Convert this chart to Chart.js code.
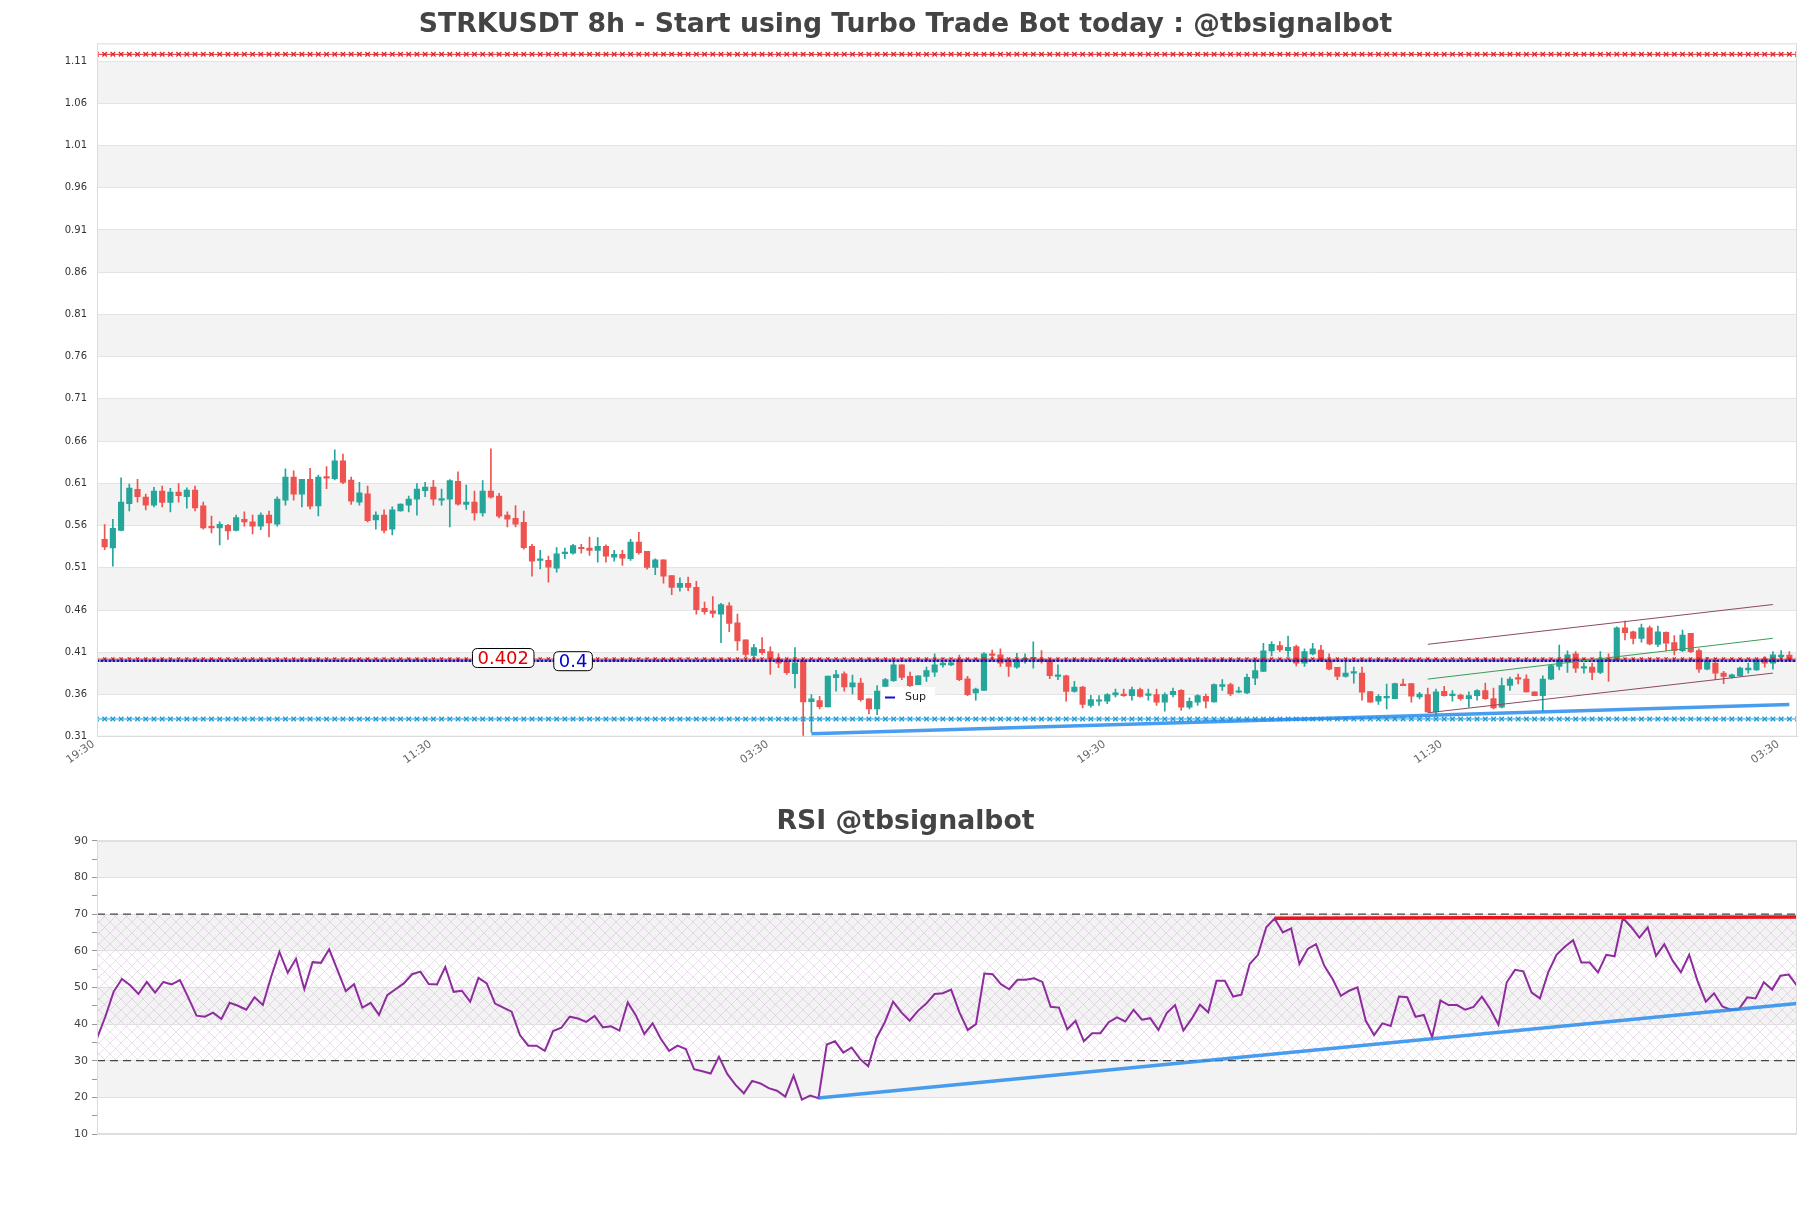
<!DOCTYPE html>
<html>
<head>
<meta charset="utf-8">
<script src="https://cdn.jsdelivr.net/npm/chart.js@4.4.0/dist/chart.umd.min.js"></script>
<style>
  body { margin: 0; background: #fff; width: 1811px; height: 1208px; overflow: hidden; }
  #priceWrap { position: absolute; left: 0; top: 0; width: 1811px; height: 790px; }
  #rsiWrap { position: absolute; left: 0; top: 790px; width: 1811px; height: 418px; }
</style>
</head>
<body>
<div id="priceWrap"><canvas id="priceChart" width="1811" height="790"></canvas></div>
<div id="rsiWrap"><canvas id="rsiChart" width="1811" height="418"></canvas></div>
<script>
//============================== DATA ===========================
const open = [
  0.5437,0.5334,0.5544,0.5858,0.6029,0.5937,0.5842,0.6009,0.5874,0.5997,
  0.5941,0.6021,0.5834,0.5592,0.5572,0.5604,0.5544,0.5675,0.5643,0.5592,
  0.5723,0.5616,0.5901,0.6175,0.5973,0.6148,0.5834,0.6179,0.6156,0.6366,
  0.6140,0.5878,0.5977,0.5667,0.5723,0.5556,0.5774,0.5842,0.5913,0.6013,
  0.6056,0.5901,0.5913,0.6124,0.5850,0.5878,0.5751,0.6009,0.5949,0.5723,
  0.5687,0.5639,0.5354,0.5187,0.5187,0.5096,0.5266,0.5274,0.5342,0.5334,
  0.5306,0.5354,0.5227,0.5258,0.5207,0.5405,0.5294,0.5104,0.5195,0.5008,
  0.4869,0.4917,0.4869,0.4619,0.4591,0.4552,0.4651,0.4449,0.4246,0.4063,
  0.4135,0.4107,0.4020,0.3996,0.3845,0.3996,0.3516,0.3528,0.3452,0.3798,
  0.3845,0.3690,0.3734,0.3547,0.3428,0.3696,0.3763,0.3951,0.3814,0.3716,
  0.3814,0.3865,0.3951,0.3951,0.4010,0.3786,0.3618,0.3649,0.4080,0.4069,
  0.3990,0.3924,0.4010,0.4022,0.4018,0.4010,0.3814,0.3822,0.3637,0.3688,
  0.3469,0.3520,0.3520,0.3594,0.3606,0.3586,0.3657,0.3590,0.3598,0.3508,
  0.3598,0.3649,0.3449,0.3508,0.3578,0.3512,0.3696,0.3716,0.3626,0.3618,
  0.3794,0.3873,0.4116,0.4178,0.4120,0.4167,0.3971,0.4080,0.4127,0.4002,
  0.3920,0.3814,0.3853,0.3853,0.3633,0.3520,0.3559,0.3551,0.3724,0.3728,
  0.3571,0.3598,0.3394,0.3637,0.3586,0.3594,0.3551,0.3586,0.3645,0.3551,
  0.3449,0.3708,0.3794,0.3782,0.3630,0.3586,0.3782,0.3931,0.3990,0.4080,
  0.3912,0.3924,0.3861,0.4018,0.4010,0.4390,0.4343,0.4265,0.4390,0.4194,
  0.4335,0.4214,0.4120,0.4323,0.4120,0.3900,0.3971,0.3853,0.3806,0.3822,
  0.3892,0.3892,0.4022,0.3971,0.4049,0.4065
];
const high = [
  0.5612,0.5675,0.6164,0.6092,0.6148,0.5973,0.6052,0.6068,0.6040,0.6096,
  0.6048,0.6068,0.5878,0.5711,0.5643,0.5616,0.5723,0.5763,0.5723,0.5751,
  0.5771,0.5941,0.6271,0.6247,0.6148,0.6279,0.6199,0.6298,0.6497,0.6445,
  0.6175,0.6112,0.6068,0.5763,0.5786,0.5822,0.5858,0.5949,0.6096,0.6112,
  0.6136,0.6033,0.6144,0.6235,0.6080,0.6009,0.6132,0.6509,0.5981,0.5763,
  0.5838,0.5771,0.5377,0.5306,0.5239,0.5338,0.5334,0.5377,0.5377,0.5465,
  0.5457,0.5373,0.5306,0.5306,0.5437,0.5520,0.5294,0.5207,0.5195,0.5008,
  0.4981,0.4989,0.4941,0.4695,0.4758,0.4679,0.4687,0.4552,0.4246,0.4194,
  0.4274,0.4163,0.4083,0.3996,0.4155,0.4028,0.3599,0.3579,0.3817,0.3885,
  0.3869,0.3829,0.3790,0.3547,0.3706,0.3790,0.3990,0.3951,0.3865,0.3822,
  0.3924,0.4080,0.3990,0.3990,0.4065,0.3814,0.3677,0.4096,0.4127,0.4139,
  0.4010,0.4088,0.4080,0.4222,0.4120,0.4029,0.3951,0.3830,0.3755,0.3696,
  0.3590,0.3586,0.3610,0.3665,0.3665,0.3688,0.3677,0.3665,0.3665,0.3618,
  0.3677,0.3657,0.3560,0.3598,0.3606,0.3727,0.3775,0.3735,0.3688,0.3841,
  0.4029,0.4206,0.4225,0.4225,0.4292,0.4186,0.4139,0.4206,0.4182,0.4080,
  0.3920,0.3990,0.3924,0.3924,0.3633,0.3598,0.3724,0.3735,0.3782,0.3728,
  0.3626,0.3677,0.3665,0.3696,0.3645,0.3606,0.3630,0.3657,0.3735,0.3677,
  0.3794,0.3806,0.3841,0.3833,0.3630,0.3822,0.3943,0.4186,0.4116,0.4108,
  0.3971,0.3971,0.4108,0.4080,0.4402,0.4468,0.4351,0.4433,0.4410,0.4410,
  0.4343,0.4296,0.4363,0.4323,0.4139,0.4041,0.4010,0.3873,0.3841,0.3924,
  0.3971,0.4022,0.4049,0.4108,0.4120,0.4108
];
const low = [
  0.5314,0.5120,0.5536,0.5774,0.5878,0.5786,0.5822,0.5822,0.5763,0.5878,
  0.5806,0.5774,0.5556,0.5512,0.5370,0.5437,0.5536,0.5592,0.5500,0.5552,
  0.5465,0.5592,0.5842,0.5901,0.5822,0.5798,0.5715,0.6036,0.6140,0.6096,
  0.5850,0.5842,0.5643,0.5556,0.5512,0.5489,0.5770,0.5761,0.5723,0.5941,
  0.5842,0.5842,0.5584,0.5842,0.5790,0.5663,0.5711,0.5925,0.5691,0.5584,
  0.5584,0.5322,0.5000,0.5088,0.4929,0.5048,0.5207,0.5262,0.5274,0.5246,
  0.5167,0.5167,0.5179,0.5127,0.5187,0.5262,0.5084,0.5020,0.4917,0.4782,
  0.4822,0.4830,0.4552,0.4552,0.4512,0.4214,0.4345,0.4123,0.4044,0.3988,
  0.4075,0.3837,0.3917,0.3837,0.3678,0.3103,0.3154,0.3428,0.3452,0.3639,
  0.3639,0.3607,0.3520,0.3369,0.3361,0.3688,0.3755,0.3775,0.3696,0.3716,
  0.3755,0.3814,0.3924,0.3940,0.3763,0.3586,0.3532,0.3649,0.4010,0.3931,
  0.3814,0.3908,0.3971,0.3912,0.3971,0.3786,0.3775,0.3520,0.3626,0.3442,
  0.3449,0.3469,0.3492,0.3571,0.3578,0.3532,0.3567,0.3532,0.3469,0.3402,
  0.3571,0.3410,0.3430,0.3469,0.3441,0.3508,0.3649,0.3586,0.3618,0.3610,
  0.3716,0.3873,0.4057,0.4108,0.4049,0.3939,0.3931,0.4069,0.3990,0.3892,
  0.3775,0.3806,0.3735,0.3532,0.3508,0.3481,0.3430,0.3547,0.3704,0.3508,
  0.3547,0.3390,0.3343,0.3579,0.3520,0.3532,0.3449,0.3532,0.3540,0.3430,
  0.3441,0.3649,0.3724,0.3626,0.3586,0.3402,0.3775,0.3892,0.3861,0.3861,
  0.3853,0.3775,0.3845,0.3755,0.4002,0.4245,0.4198,0.4218,0.4186,0.4167,
  0.4116,0.4069,0.4108,0.4096,0.3861,0.3892,0.3775,0.3728,0.3794,0.3814,
  0.3853,0.3884,0.3924,0.3900,0.4010,0.4002
];
const close = [
  0.5346,0.5568,0.5878,0.6044,0.5941,0.5842,0.6009,0.5874,0.5997,0.5953,
  0.6021,0.5810,0.5572,0.5572,0.5616,0.5536,0.5695,0.5643,0.5592,0.5723,
  0.5632,0.5913,0.6175,0.5973,0.6148,0.5830,0.6175,0.6160,0.6366,0.6112,
  0.5890,0.5989,0.5659,0.5723,0.5544,0.5786,0.5854,0.5913,0.6033,0.6056,
  0.5913,0.5921,0.6132,0.5854,0.5878,0.5751,0.6009,0.5937,0.5711,0.5675,
  0.5616,0.5338,0.5179,0.5195,0.5108,0.5266,0.5286,0.5362,0.5326,0.5306,
  0.5354,0.5239,0.5258,0.5215,0.5405,0.5278,0.5104,0.5195,0.5000,0.4869,
  0.4917,0.4869,0.4603,0.4580,0.4560,0.4663,0.4441,0.4234,0.4075,0.4155,
  0.4095,0.4024,0.3972,0.3857,0.3976,0.3512,0.3547,0.3456,0.3817,0.3837,
  0.3690,0.3738,0.3539,0.3428,0.3639,0.3775,0.3951,0.3802,0.3704,0.3822,
  0.3884,0.3951,0.3971,0.3975,0.3775,0.3598,0.3665,0.4080,0.4061,0.3971,
  0.3931,0.4010,0.4025,0.4033,0.3990,0.3822,0.3822,0.3637,0.3688,0.3481,
  0.3539,0.3532,0.3598,0.3618,0.3586,0.3657,0.3578,0.3606,0.3508,0.3598,
  0.3637,0.3449,0.3520,0.3586,0.3520,0.3716,0.3716,0.3606,0.3637,0.3802,
  0.3884,0.4116,0.4194,0.4127,0.4159,0.3971,0.4108,0.4139,0.4002,0.3900,
  0.3814,0.3853,0.3865,0.3626,0.3508,0.3579,0.3567,0.3728,0.3704,0.3579,
  0.3606,0.3394,0.3630,0.3586,0.3598,0.3551,0.3586,0.3645,0.3551,0.3441,
  0.3704,0.3782,0.3782,0.3630,0.3586,0.3782,0.3943,0.4010,0.4069,0.3912,
  0.3924,0.3861,0.4010,0.4002,0.4390,0.4331,0.4265,0.4390,0.4198,0.4343,
  0.4206,0.4120,0.4304,0.4108,0.3900,0.3990,0.3853,0.3814,0.3833,0.3912,
  0.3912,0.4010,0.3971,0.4069,0.4057,0.4010
];
const rsi = [
  36.1,42.0,48.8,52.3,50.6,48.2,51.5,48.6,51.5,50.8,
  52.0,47.3,42.3,42.0,43.1,41.4,45.8,45.0,43.9,47.3,
  45.2,52.9,59.7,54.0,57.8,49.5,56.9,56.7,60.4,54.7,
  49.0,50.9,44.5,45.8,42.5,47.9,49.5,51.1,53.6,54.3,
  50.9,50.8,55.6,48.8,49.1,46.1,52.6,51.1,45.6,44.5,
  43.4,37.0,34.1,34.1,32.7,38.1,39.0,42.0,41.5,40.6,
  42.2,39.1,39.4,38.2,45.9,42.3,37.3,40.2,35.9,32.7,
  34.1,33.2,27.7,27.1,26.5,31.1,26.4,23.4,21.1,24.5,
  23.8,22.5,21.8,20.2,25.9,19.4,20.5,19.8,34.4,35.3,
  32.2,33.6,30.5,28.5,36.2,40.5,46.1,43.2,40.9,43.6,
  45.6,48.2,48.4,49.4,43.2,38.4,40.0,53.8,53.6,50.9,
  49.5,52.1,52.1,52.5,51.5,44.7,44.5,38.6,40.9,35.3,
  37.5,37.5,40.5,41.8,40.7,43.9,41.2,41.6,38.4,43.0,
  45.2,38.2,41.4,45.3,43.2,51.8,51.8,47.5,48.0,56.4,
  58.9,66.4,68.8,65.0,66.1,56.4,60.5,61.8,55.9,52.3,
  47.7,49.1,50.0,40.9,37.0,40.2,39.5,47.5,47.3,42.0,
  42.5,36.4,46.4,45.2,45.2,43.9,44.7,47.5,44.1,39.8,
  51.4,54.8,54.4,48.6,47.0,54.1,58.9,61.1,62.9,56.8,
  56.8,54.1,58.9,58.5,68.9,66.5,63.6,66.4,58.6,61.8,
  57.3,54.1,58.9,51.8,46.1,48.4,44.8,43.9,44.1,47.3,
  47.0,51.4,49.4,53.2,53.5,50.5
];

// x axis labels (8h candles, one label every 41 bars)
const xTickIndex = [0, 41, 82, 123, 164, 205];
const xTickLabels = ["19:30", "11:30", "03:30", "19:30", "11:30", "03:30"];
const priceTicks = [0.31,0.36,0.41,0.46,0.51,0.56,0.61,0.66,0.71,0.76,0.81,0.86,0.91,0.96,1.01,1.06,1.11];
const rsiTicks = [10,15,20,25,30,35,40,45,50,55,60,65,70,75,80,85,90];

// levels
const resistLevel = 1.118;
const supportLevel = 0.331;
const pivotRed = 0.402;
const pivotBlue = 0.4;

// trend lines [startIndex, endIndex], [startValue, endValue]
const supTrendIdx = [86, 205];
const supTrendVal = [0.3135, 0.348];
const channelIdx = [161, 203];
const channelUpper = [0.4194, 0.4665];
const channelMid = [0.3782, 0.4265];
const channelLower = [0.3383, 0.3853];

const rsiTopIdx = [142, 205];
const rsiTopVal = [68.9, 69.2];
const rsiBotIdx = [87, 205];
const rsiBotVal = [19.8, 45.6];

//============================== HELPERS ===========================
const GREEN = "#26a69a";
const RED = "#ef5350";
const FONT = "DejaVu Sans";

const candleColors = close.map((c, i) => c >= open[i] ? GREEN : RED);
const levelRange = [];
for (let i = -1; i <= open.length; i++) levelRange.push(i);

function seg(idx, val) {
    return [{x: idx[0], y: val[0]}, {x: idx[1], y: val[1]}];
}
function flat(v) {
    return levelRange.map(i => ({x: i, y: v}));
}

// empty axis on the right, keeps the plot 14px from the edge while the title stays centred on the page
const spacerAxis = {
    position: "right",
    display: true,
    afterFit: s => { s.width = 14; },
    ticks: { display: false },
    grid: { display: false, drawTicks: false },
    border: { display: false }
};

const bandPlugin = {
    id: "bands",
    beforeDraw(chart, args, opts) {
        const {ctx, chartArea: a} = chart;
        const y = chart.scales.y;
        ctx.save();
        ctx.beginPath();
        ctx.rect(a.left, a.top, a.width, a.height);
        ctx.clip();
        ctx.fillStyle = opts.color;
        opts.bands.forEach(b => {
            const y1 = y.getPixelForValue(b[1]);
            const y2 = y.getPixelForValue(b[0]);
            ctx.fillRect(a.left, y1, a.width, y2 - y1);
        });
        if (opts.hatch) {
            const tile = document.createElement("canvas");
            tile.width = 11; tile.height = 11;
            const g = tile.getContext("2d");
            g.strokeStyle = "rgba(190,150,200,0.3)";
            g.lineWidth = 1;
            g.beginPath();
            g.moveTo(0, 0); g.lineTo(11, 11);
            g.moveTo(11, 0); g.lineTo(0, 11);
            g.stroke();
            ctx.fillStyle = ctx.createPattern(tile, "repeat");
            const h1 = y.getPixelForValue(opts.hatch[1]);
            const h2 = y.getPixelForValue(opts.hatch[0]);
            ctx.fillRect(a.left, h1, a.width, h2 - h1);
        }
        ctx.restore();
    },
    afterDraw(chart) {
        const {ctx, chartArea: a} = chart;
        ctx.save();
        ctx.strokeStyle = "#dcdcdc";
        ctx.lineWidth = 1;
        ctx.strokeRect(a.left + 0.5, a.top + 0.5, a.width - 1, a.height - 1);
        ctx.restore();
    }
};

function roundBox(ctx, x, y, w, h, r) {
    ctx.beginPath();
    ctx.moveTo(x + r, y);
    ctx.lineTo(x + w - r, y);
    ctx.quadraticCurveTo(x + w, y, x + w, y + r);
    ctx.lineTo(x + w, y + h - r);
    ctx.quadraticCurveTo(x + w, y + h, x + w - r, y + h);
    ctx.lineTo(x + r, y + h);
    ctx.quadraticCurveTo(x, y + h, x, y + h - r);
    ctx.lineTo(x, y + r);
    ctx.quadraticCurveTo(x, y, x + r, y);
    ctx.closePath();
}

const labelPlugin = {
    id: "levelLabels",
    afterDatasetsDraw(chart, args, opts) {
        const {ctx} = chart;
        const xs = chart.scales.x, ys = chart.scales.y;
        ctx.save();
        ctx.font = "18px " + FONT;
        ctx.textBaseline = "middle";
        ctx.textAlign = "center";
        opts.items.forEach(it => {
            const cx = xs.getPixelForValue(it.at);
            const cy = ys.getPixelForValue(it.value) + it.dy;
            const w = ctx.measureText(it.text).width + 10;
            const h = 19;
            roundBox(ctx, cx - w / 2, cy - h / 2, w, h, 5);
            ctx.fillStyle = "#fff";
            ctx.fill();
            ctx.strokeStyle = "#000";
            ctx.lineWidth = 1;
            ctx.stroke();
            ctx.fillStyle = it.color;
            ctx.fillText(it.text, cx, cy + 1);
        });
        // little legend box for the support line
        const lg = opts.legend;
        ctx.fillStyle = "#fff";
        ctx.fillRect(lg.x, lg.y, 54, 20);
        ctx.strokeStyle = "#1010d0";
        ctx.lineWidth = 2;
        ctx.beginPath();
        ctx.moveTo(lg.x + 4, lg.y + 10.5);
        ctx.lineTo(lg.x + 14, lg.y + 10.5);
        ctx.stroke();
        ctx.fillStyle = "#222";
        ctx.font = "11px " + FONT;
        ctx.textAlign = "left";
        ctx.fillText(lg.text, lg.x + 24, lg.y + 10);
        ctx.restore();
    }
};

//============================== PRICE ===========================
const price_config = {
    type: "bar",
    data: {
        datasets: [
            {
                label: "wick",
                data: open.map((o, i) => ({x: i, y: [low[i], high[i]]})),
                backgroundColor: candleColors,
                barThickness: 1,
                grouped: false,
                order: 10
            },
            {
                label: "body",
                data: open.map((o, i) => ({x: i, y: [o, close[i]]})),
                backgroundColor: candleColors,
                barThickness: 5.5,
                minBarLength: 1.5,
                grouped: false,
                order: 9
            },
            {
                type: "line", label: "Res",
                data: flat(resistLevel),
                borderColor: "#e3262b", borderWidth: 1,
                pointStyle: "crossRot", pointRadius: 3.2, pointBorderWidth: 1.3,
                pointBorderColor: "#e3262b", order: 3
            },
            {
                type: "line", label: "Support",
                data: flat(supportLevel),
                borderColor: "#1e9ad6", borderWidth: 1,
                pointStyle: "crossRot", pointRadius: 3.2, pointBorderWidth: 1.3,
                pointBorderColor: "#1e9ad6", order: 3
            },
            {
                type: "line", label: "0.4",
                data: flat(pivotBlue),
                borderColor: "#1a14b8", borderWidth: 2.5, borderDash: [3, 1],
                pointRadius: 0, order: 2
            },
            {
                type: "line", label: "0.402",
                data: flat(pivotRed),
                borderColor: "rgba(220,30,30,0.7)", borderWidth: 1,
                pointStyle: "crossRot", pointRadius: 2.2, pointBorderWidth: 1.2,
                pointBorderColor: "#d81e1e", order: 2
            },
            {
                type: "line", label: "Sup",
                data: seg(supTrendIdx, supTrendVal),
                borderColor: "rgba(40,140,235,0.85)", borderWidth: 3.5,
                pointRadius: 0, order: 1
            },
            {
                type: "line", label: "upper",
                data: seg(channelIdx, channelUpper),
                borderColor: "#8c4a62", borderWidth: 1, pointRadius: 0, order: 1
            },
            {
                type: "line", label: "mid",
                data: seg(channelIdx, channelMid),
                borderColor: "#3a9e55", borderWidth: 1, pointRadius: 0, order: 1
            },
            {
                type: "line", label: "lower",
                data: seg(channelIdx, channelLower),
                borderColor: "#8c4a62", borderWidth: 1, pointRadius: 0, order: 1
            }
        ]
    },
    options: {
        responsive: false,
        animation: false,
        layout: { padding: 0 },
        plugins: {
            legend: { display: false },
            tooltip: { enabled: false },
            title: {
                display: true,
                text: "STRKUSDT 8h - Start using Turbo Trade Bot today : @tbsignalbot",
                color: "#444",
                font: { family: FONT, size: 26.7, weight: "bold" },
                padding: { top: 9, bottom: 2.3 }
            },
            bands: {
                color: "#f3f3f3",
                bands: [[0.36,0.41],[0.46,0.51],[0.56,0.61],[0.66,0.71],[0.76,0.81],[0.86,0.91],[0.96,1.01],[1.06,1.11]]
            },
            levelLabels: {
                items: [
                    { text: "0.402", value: pivotRed, at: 48.5, dy: -1, color: "#e00000" },
                    { text: "0.4", value: pivotBlue, at: 57, dy: 0.5, color: "#0000d0" }
                ],
                legend: { x: 881, y: 687, text: "Sup" }
            }
        },
        scales: {
            x: {
                type: "linear",
                min: -0.93,
                max: 205.93,
                offset: false,
                afterBuildTicks: s => { s.ticks = xTickIndex.map(v => ({value: v})); },
                afterFit: s => { s.height = 53.3; },
                ticks: {
                    autoSkip: false,
                    maxRotation: 35,
                    minRotation: 35,
                    labelOffset: -11,
                    padding: 1,
                    color: "#666",
                    font: { family: FONT, size: 11 },
                    callback: v => xTickLabels[xTickIndex.indexOf(v)]
                },
                grid: { display: false, drawTicks: false },
                border: { display: true, color: "#dcdcdc" }
            },
            y: {
                min: 0.31,
                max: 1.131,
                beginAtZero: false,
                afterBuildTicks: s => { s.ticks = priceTicks.map(v => ({value: v})); },
                afterFit: s => { s.width = 97; },
                ticks: {
                    padding: 10,
                    color: "#333",
                    font: { family: FONT, size: 10 },
                    callback: v => v.toFixed(2)
                },
                grid: { color: "#e4e4e4", drawTicks: false },
                border: { display: true, color: "#dcdcdc" }
            },
            yRight: spacerAxis
        }
    },
    plugins: [bandPlugin, labelPlugin]
};

//============================== RSI ===========================
const rsi_config = {
    type: "line",
    data: {
        datasets: [
            {
                label: "RSI",
                data: rsi.map((v, i) => ({x: i, y: v})),
                borderColor: "#8e2c9e", borderWidth: 2, pointRadius: 0, order: 3
            },
            {
                label: "70",
                data: [{x: 0, y: 70}, {x: 205, y: 70}],
                borderColor: "#444", borderWidth: 1.2, borderDash: [8, 5], pointRadius: 0, order: 4
            },
            {
                label: "30",
                data: [{x: 0, y: 30}, {x: 205, y: 30}],
                borderColor: "#444", borderWidth: 1.2, borderDash: [8, 5], pointRadius: 0, order: 4
            },
            {
                label: "top",
                data: seg(rsiTopIdx, rsiTopVal),
                borderColor: "#e8141e", borderWidth: 3.5, pointRadius: 0, order: 1
            },
            {
                label: "bottom",
                data: seg(rsiBotIdx, rsiBotVal),
                borderColor: "rgba(40,140,235,0.85)", borderWidth: 3.5, pointRadius: 0, order: 1
            }
        ]
    },
    options: {
        responsive: false,
        animation: false,
        layout: { padding: { left: 0, right: 0, top: 0, bottom: 74 } },
        plugins: {
            legend: { display: false },
            tooltip: { enabled: false },
            title: {
                display: true,
                text: "RSI @tbsignalbot",
                color: "#444",
                font: { family: FONT, size: 26.7, weight: "bold" },
                padding: { top: 16.5, bottom: 2.3 }
            },
            bands: {
                color: "#f3f3f3",
                bands: [[20,30],[40,50],[60,70],[80,90]],
                hatch: [30, 70]
            }
        },
        scales: {
            x: { type: "linear", min: 0, max: 205, display: false },
            y: {
                min: 10,
                max: 90,
                afterBuildTicks: s => { s.ticks = rsiTicks.map(v => ({value: v})); },
                afterFit: s => { s.width = 97; },
                ticks: {
                    padding: 4,
                    color: "#444",
                    font: { family: FONT, size: 11 },
                    callback: v => (v % 10 === 0 ? String(v) : "")
                },
                grid: {
                    color: c => (c.tick && c.tick.value % 10 === 0 ? "#e0e0e0" : "rgba(0,0,0,0)"),
                    tickColor: "#999",
                    tickLength: 5
                },
                border: { display: true, color: "#dcdcdc" }
            },
            yRight: spacerAxis
        }
    },
    plugins: [bandPlugin]
};

const priceChart = new Chart(document.getElementById("priceChart").getContext("2d"), price_config);
const rsiChart = new Chart(document.getElementById("rsiChart").getContext("2d"), rsi_config);
</script>
</body>
</html>
